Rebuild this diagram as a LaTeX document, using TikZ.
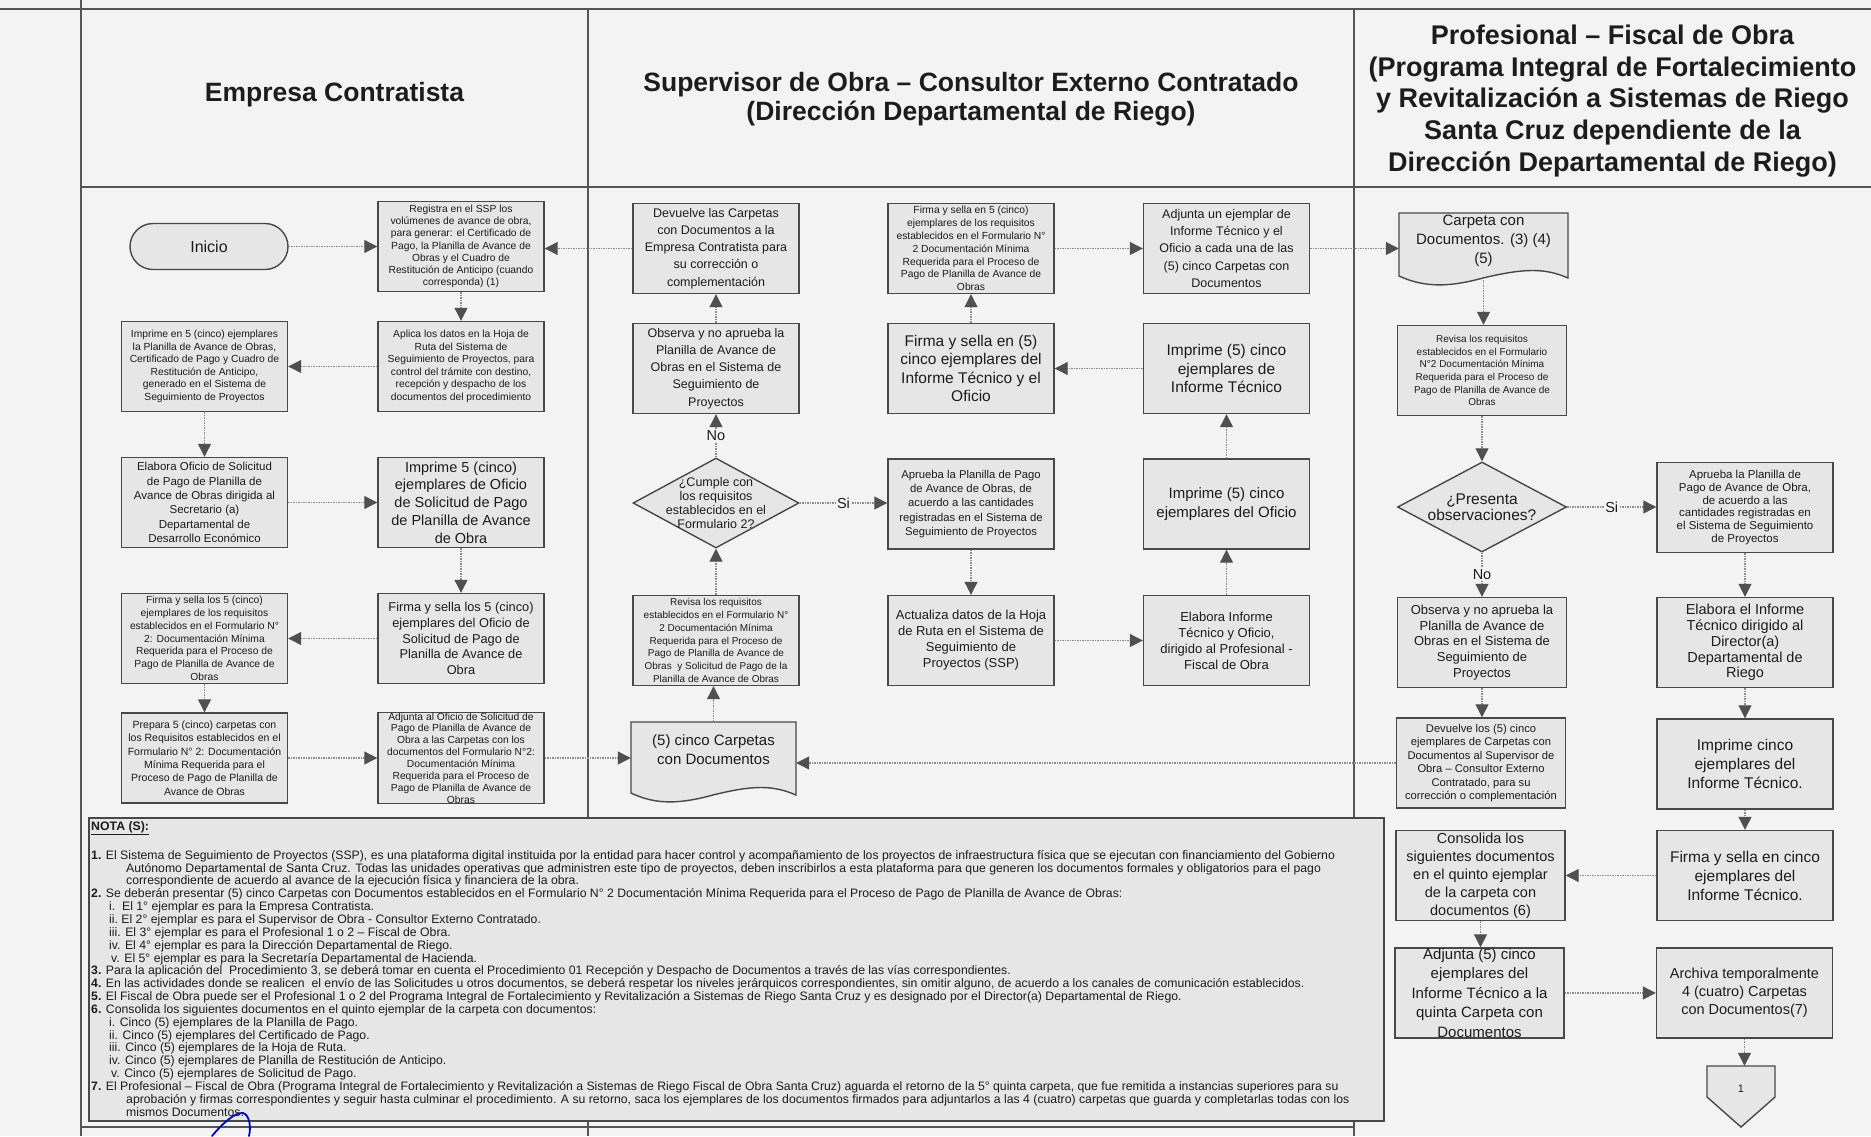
\documentclass[tikz,border=0pt]{standalone}
\usepackage{fontspec}
\setmainfont{Liberation Sans}
\usetikzlibrary{arrows.meta,shapes.geometric,calc}
\definecolor{pagebg}{HTML}{F3F3F3}
\definecolor{boxfill}{HTML}{E6E6E6}
\definecolor{boxline}{HTML}{484848}
\definecolor{conline}{HTML}{8C8C8C}
\definecolor{arrowc}{HTML}{505050}
\definecolor{txt}{HTML}{1C1C1C}
\definecolor{framec}{HTML}{555555}
\newcommand\fz[2]{\fontsize{#1}{#2}\selectfont}
\begin{document}
\begin{tikzpicture}[x=1pt,y=-1pt,
  box/.style={draw=boxline, fill=boxfill, line width=1.4pt, minimum width=166pt, minimum height=90pt, inner sep=0pt, align=center, text=txt},
  wbox/.style={box, minimum width=169pt},
  wwbox/.style={box, minimum width=176pt},
  conn/.style={draw=conline, line width=1.1pt, dash pattern=on 1.4pt off 1.1pt, -{Triangle[length=13pt,width=13pt,color=arrowc]}},
  lbl/.style={fill=pagebg, inner sep=1.5pt, font=\fz{14.5}{15}, text=txt},
  hdr/.style={font=\bfseries\fz{26.5}{30}, align=center, text=txt},
  diam/.style={shape=diamond, draw=boxline, fill=boxfill, line width=1.4pt, inner sep=0pt, minimum width=166pt, minimum height=90pt},
  lane/.style={draw=framec, line width=1.3pt},
  docst/.style={draw=boxline, fill=boxfill, line width=1.4pt},
  plain/.style={inner sep=0pt, align=center, text=txt}
]
\useasboundingbox (0,0) rectangle (1871,1136);
\fill[pagebg] (0,0) rectangle (1871,1136);

% frame and lanes
\draw[lane] (0,9) -- (1871,9);
\draw[lane] (81,0) -- (81,1136);
\draw[lane] (81,187) -- (1871,187);
\draw[lane] (588,9) -- (588,1136);
\draw[lane] (1354,9) -- (1354,1136);
\draw[lane] (81,1127) -- (1354,1127);

% headers
\node[hdr] (h1) at (334.5,95) {Empresa Contratista};
\node[hdr, font=\bfseries\fz{26.5}{28.5}] (h2) at (971,99) {Supervisor de Obra -- Consultor Externo Contratado\\(Dirección Departamental de Riego)};
\node[hdr, font=\bfseries\fz{27}{31.8}] (h3) at (1612.5,101) {Profesional -- Fiscal de Obra\\(Programa Integral de Fortalecimiento\\y Revitalización a Sistemas de Riego\\Santa Cruz dependiente de la\\Dirección Departamental de Riego)};

% notes box
\draw[draw=boxline, fill=boxfill, line width=1.4pt] (89,818) rectangle (1384,1121);
\node[anchor=west, inner sep=0pt, font=\bfseries\fz{12.3}{14}, text=txt] (nota) at (91,828) {\underline{NOTA (S):}};
\node[anchor=north west, inner sep=0pt, align=left, font=\fz{12.25}{12.85}, text=txt] (notes) at (91,850) {%
\textbf{1.} El Sistema de Seguimiento de Proyectos (SSP), es una plataforma digital instituida por la entidad para hacer control y acompañamiento de los proyectos de infraestructura física que se ejecutan con financiamiento del Gobierno\\
\hspace*{35pt}Autónomo Departamental de Santa Cruz. Todas las unidades operativas que administren este tipo de proyectos, deben inscribirlos a esta plataforma para que generen los documentos formales y obligatorios para el pago\\
\hspace*{35pt}correspondiente de acuerdo al avance de la ejecución física y financiera de la obra.\\
\textbf{2.} Se deberán presentar (5) cinco Carpetas con Documentos establecidos en el Formulario N° 2 Documentación Mínima Requerida para el Proceso de Pago de Planilla de Avance de Obras:\\
\hspace*{18pt}i.\ \ El 1° ejemplar es para la Empresa Contratista.\\
\hspace*{18pt}ii.\ El 2° ejemplar es para el Supervisor de Obra - Consultor Externo Contratado.\\
\hspace*{18pt}iii. El 3° ejemplar es para el Profesional 1 o 2 -- Fiscal de Obra.\\
\hspace*{18pt}iv. El 4° ejemplar es para la Dirección Departamental de Riego.\\
\hspace*{20pt}v. El 5° ejemplar es para la Secretaría Departamental de Hacienda.\\
\textbf{3.} Para la aplicación del\ \ Procedimiento 3, se deberá tomar en cuenta el Procedimiento 01 Recepción y Despacho de Documentos a través de las vías correspondientes.\\
\textbf{4.} En las actividades donde se realicen\ \ el envío de las Solicitudes u otros documentos, se deberá respetar los niveles jerárquicos correspondientes, sin omitir alguno, de acuerdo a los canales de comunicación establecidos.\\
\textbf{5.} El Fiscal de Obra puede ser el Profesional 1 o 2 del Programa Integral de Fortalecimiento y Revitalización a Sistemas de Riego Santa Cruz y es designado por el Director(a) Departamental de Riego.\\
\textbf{6.} Consolida los siguientes documentos en el quinto ejemplar de la carpeta con documentos:\\
\hspace*{18pt}i. Cinco (5) ejemplares de la Planilla de Pago.\\
\hspace*{18pt}ii. Cinco (5) ejemplares del Certificado de Pago.\\
\hspace*{18pt}iii. Cinco (5) ejemplares de la Hoja de Ruta.\\
\hspace*{18pt}iv. Cinco (5) ejemplares de Planilla de Restitución de Anticipo.\\
\hspace*{20pt}v. Cinco (5) ejemplares de Solicitud de Pago.\\
\textbf{7.} El Profesional -- Fiscal de Obra (Programa Integral de Fortalecimiento y Revitalización a Sistemas de Riego Fiscal de Obra Santa Cruz) aguarda el retorno de la 5° quinta carpeta, que fue remitida a instancias superiores para su\\
\hspace*{35pt}aprobación y firmas correspondientes y seguir hasta culminar el procedimiento. A su retorno, saca los ejemplares de los documentos firmados para adjuntarlos a las 4 (cuatro) carpetas que guarda y completarlas todas con los\\
\hspace*{35pt}mismos Documentos.};

% pen mark
\draw[draw=blue!75!black, line width=1.8pt, line cap=round] (212,1136) .. controls (222,1124) and (235,1112) .. (243,1113) .. controls (250,1115) and (251,1128) .. (249,1136);

% ---------- column 1 ----------
\node[draw=boxline, fill=boxfill, line width=1.4pt, rounded corners=23pt, minimum width=158pt, minimum height=46pt, font=\fz{16}{18}, text=txt] (inicio) at (209,246.5) {Inicio};
\node[box, font=\fz{10.3}{12.2}] (n1) at (461,246.5) {Registra en el SSP los\\volúmenes de avance de obra,\\para generar: el Certificado de\\Pago, la Planilla de Avance de\\Obras y el Cuadro de\\Restitución de Anticipo (cuando\\corresponda) (1)};
\node[box, font=\fz{10.3}{12.5}] (n2) at (461,366.5) {Aplica los datos en la Hoja de\\Ruta del Sistema de\\Seguimiento de Proyectos, para\\control del trámite con destino,\\recepción y despacho de los\\documentos del procedimiento};
\node[box, font=\fz{10.3}{12.5}] (n3) at (204.5,366.5) {Imprime en 5 (cinco) ejemplares\\la Planilla de Avance de Obras,\\Certificado de Pago y Cuadro de\\Restitución de Anticipo,\\generado en el Sistema de\\Seguimiento de Proyectos};
\node[box, font=\fz{11.5}{14.4}] (n4) at (204.5,502.5) {Elabora Oficio de Solicitud\\de Pago de Planilla de\\Avance de Obras dirigida al\\Secretario (a)\\Departamental de\\Desarrollo Económico};
\node[box, font=\fz{14.5}{17.7}] (n5) at (461,502.5) {Imprime 5 (cinco)\\ejemplares de Oficio\\de Solicitud de Pago\\de Planilla de Avance\\de Obra};
\node[box, font=\fz{12.8}{15.7}] (n6) at (461,638.5) {Firma y sella los 5 (cinco)\\ejemplares del Oficio de\\Solicitud de Pago de\\Planilla de Avance de\\Obra};
\node[box, font=\fz{10.3}{12.8}] (n7) at (204.5,638.5) {Firma y sella los 5 (cinco)\\ejemplares de los requisitos\\establecidos en el Formulario N°\\2: Documentación Mínima\\Requerida para el Proceso de\\Pago de Planilla de Avance de\\Obras};
\node[box, font=\fz{10.5}{13.3}] (n8) at (204.5,758) {Prepara 5 (cinco) carpetas con\\los Requisitos establecidos en el\\Formulario N° 2: Documentación\\Mínima Requerida para el\\Proceso de Pago de Planilla de\\Avance de Obras};
\node[box, font=\fz{10.3}{11.9}] (n9) at (461,758) {Adjunta al Oficio de Solicitud de\\Pago de Planilla de Avance de\\Obra a las Carpetas con los\\documentos del Formulario N°2:\\Documentación Mínima\\Requerida para el Proceso de\\Pago de Planilla de Avance de\\Obras};

% document (5) cinco carpetas
\path[docst] (631,722) -- (796,722) -- (796,795) .. controls (773,785) and (753,785) .. (713,795) .. controls (680,804) and (656,805) .. (631,793) -- cycle;
\node[plain, minimum width=165pt, minimum height=80pt] (doc5) at (713.5,762) {};
\node[plain, font=\fz{15}{19}] (doc5t) at (713.5,750) {(5) cinco Carpetas\\con Documentos};

% ---------- column 2 ----------
\node[box, font=\fz{12.5}{17.2}] (c1) at (716,248.5) {Devuelve las Carpetas\\con Documentos a la\\Empresa Contratista para\\su corrección o\\complementación};
\node[box, font=\fz{12.5}{17.2}] (c2) at (716,368.5) {Observa y no aprueba la\\Planilla de Avance de\\Obras en el Sistema de\\Seguimiento de\\Proyectos};
\node[box, font=\fz{10.3}{12.9}] (c3) at (971,248.5) {Firma y sella en 5 (cinco)\\ejemplares de los requisitos\\establecidos en el Formulario N°\\2 Documentación Mínima\\Requerida para el Proceso de\\Pago de Planilla de Avance de\\Obras};
\node[box, font=\fz{12.5}{17.2}] (c4) at (1226.5,248.5) {Adjunta un ejemplar de\\Informe Técnico y el\\Oficio a cada una de las\\(5) cinco Carpetas con\\Documentos};
\node[box, font=\fz{15.5}{18.6}] (c5) at (971,368.5) {Firma y sella en (5)\\cinco ejemplares del\\Informe Técnico y el\\Oficio};
\node[box, font=\fz{15.5}{18.3}] (c6) at (1226.5,368.5) {Imprime (5) cinco\\ejemplares de\\Informe Técnico};
\node[diam] (d1) at (716,503) {};
\node[plain, font=\fz{12.5}{14.2}] (d1t) at (716,503) {¿Cumple con\\los requisitos\\establecidos en el\\Formulario 2?};
\node[box, font=\fz{11.3}{14.2}] (c7) at (971,504) {Aprueba la Planilla de Pago\\de Avance de Obras, de\\acuerdo a las cantidades\\registradas en el Sistema de\\Seguimiento de Proyectos};
\node[box, font=\fz{15}{18.3}] (c8) at (1226.5,504) {Imprime (5) cinco\\ejemplares del Oficio};
\node[box, font=\fz{10}{12.7}] (c9) at (716,640.5) {Revisa los requisitos\\establecidos en el Formulario N°\\2 Documentación Mínima\\Requerida para el Proceso de\\Pago de Planilla de Avance de\\Obras\ \ y Solicitud de Pago de la\\Planilla de Avance de Obras};
\node[box, font=\fz{13}{16}] (c10) at (971,640.5) {Actualiza datos de la Hoja\\de Ruta en el Sistema de\\Seguimiento de\\Proyectos (SSP)};
\node[box, font=\fz{13}{16}] (c11) at (1226.5,640.5) {Elabora Informe\\Técnico y Oficio,\\dirigido al Profesional -\\Fiscal de Obra};

% ---------- column 3 ----------
\path[docst] (1399,213) -- (1568,213) -- (1568,278) .. controls (1545,268) and (1525,268) .. (1483,278) .. controls (1450,287) and (1425,288) .. (1399,276) -- cycle;
\node[plain, minimum width=169pt, minimum height=67pt] (carpeta) at (1483.5,246.5) {};
\node[plain, font=\fz{15}{18.8}] (carpetat) at (1483.5,241) {Carpeta con\\Documentos. (3) (4)\\(5)};
\node[wbox, font=\fz{10}{12.7}] (r1) at (1482,370.5) {Revisa los requisitos\\establecidos en el Formulario\\N°2 Documentación Mínima\\Requerida para el Proceso de\\Pago de Planilla de Avance de\\Obras};
\node[diam, minimum width=169pt] (d2) at (1482,507) {};
\node[plain, font=\fz{15.5}{15.5}] (d2t) at (1482,507) {¿Presenta\\observaciones?};
\node[wwbox, font=\fz{11.5}{12.9}] (r2) at (1745,507.5) {Aprueba la Planilla de\\Pago de Avance de Obra,\\de acuerdo a las\\cantidades registradas en\\el Sistema de Seguimiento\\de Proyectos};
\node[wbox, font=\fz{13}{15.8}] (r3) at (1482,642.5) {Observa y no aprueba la\\Planilla de Avance de\\Obras en el Sistema de\\Seguimiento de\\Proyectos};
\node[wwbox, font=\fz{14.5}{15.8}] (r4) at (1745,642.5) {Elabora el Informe\\Técnico dirigido al\\Director(a)\\Departamental de\\Riego};
\node[wbox, font=\fz{11.2}{13.5}] (r5) at (1481,763) {Devuelve los (5) cinco\\ejemplares de Carpetas con\\Documentos al Supervisor de\\Obra -- Consultor Externo\\Contratado, para su\\corrección o complementación};
\node[wwbox, font=\fz{15.5}{19}] (r6) at (1745,764) {Imprime cinco\\ejemplares del\\Informe Técnico.};
\node[wbox, font=\fz{14.5}{17.9}] (r7) at (1480.5,875.5) {Consolida los\\siguientes documentos\\en el quinto ejemplar\\de la carpeta con\\documentos (6)};
\node[wwbox, font=\fz{15.5}{19}] (r8) at (1745,875.5) {Firma y sella en cinco\\ejemplares del\\Informe Técnico.};
\node[wbox, font=\fz{15}{19.4}] (r9) at (1479.5,993) {Adjunta (5) cinco\\ejemplares del\\Informe Técnico a la\\quinta Carpeta con\\Documentos};
\node[wwbox, font=\fz{14.5}{18}] (r10) at (1744.5,993) {Archiva temporalmente\\4 (cuatro) Carpetas\\con Documentos(7)};
\path[docst] (1707,1066) -- (1775,1066) -- (1775,1097) -- (1741,1127) -- (1707,1097) -- cycle;
\node[plain, minimum width=68pt, minimum height=61pt] (p1) at (1741,1096.5) {};
\node[plain, font=\fz{11}{12}] (p1t) at (1741,1089) {1};

% ---------- connectors ----------
\draw[conn] (inicio.east) -- (inicio.east -| n1.west);
\draw[conn] (n1.south) -- (n2.north);
\draw[conn] (n2.west) -- (n3.east);
\draw[conn] (n3.south) -- (n4.north);
\draw[conn] (n4.east) -- (n5.west);
\draw[conn] (n5.south) -- (n6.north);
\draw[conn] (n6.west) -- (n7.east);
\draw[conn] (n7.south) -- (n8.north);
\draw[conn] (n8.east) -- (n9.west);
\draw[conn] (n9.east) -- (n9.east -| doc5.west);
\draw[conn] (doc5.north) -- (doc5.north |- c9.south);
\draw[conn] (c9.north) -- (d1.south);
\draw[conn] (d1.north) -- node[lbl] {No} (c2.south);
\draw[conn] (c2.north) -- (c1.south);
\draw[conn] (c1.west) -- (c1.west -| n1.east);
\draw[conn] (d1.east) -- node[lbl] {Si} (d1.east -| c7.west);
\draw[conn] (c7.south) -- (c10.north);
\draw[conn] (c10.east) -- (c11.west);
\draw[conn] (c11.north) -- (c8.south);
\draw[conn] (c8.north) -- (c6.south);
\draw[conn] (c6.west) -- (c5.east);
\draw[conn] (c5.north) -- (c3.south);
\draw[conn] (c3.east) -- (c4.west);
\draw[conn] (c4.east) -- (c4.east -| carpeta.west);
\draw[conn] (carpeta.south) -- (carpeta.south |- r1.north);
\draw[conn] (r1.south) -- (d2.north);
\draw[conn] (d2.east) -- node[lbl] {Si} (d2.east -| r2.west);
\draw[conn] (d2.south) -- node[lbl] {No} (d2.south |- r3.north);
\draw[conn] (r3.south) -- (r3.south |- r5.north);
\draw[conn] (r5.west) -- (r5.west -| doc5.east);
\draw[conn] (r2.south) -- (r2.south |- r4.north);
\draw[conn] (r4.south) -- (r4.south |- r6.north);
\draw[conn] (r6.south) -- (r6.south |- r8.north);
\draw[conn] (r8.west) -- (r8.west -| r7.east);
\draw[conn] (r7.south) -- (r7.south |- r9.north);
\draw[conn] (r9.east) -- (r9.east -| r10.west);
\draw[conn] (r10.south) -- (r10.south |- p1.north);
\end{tikzpicture}
\end{document}
